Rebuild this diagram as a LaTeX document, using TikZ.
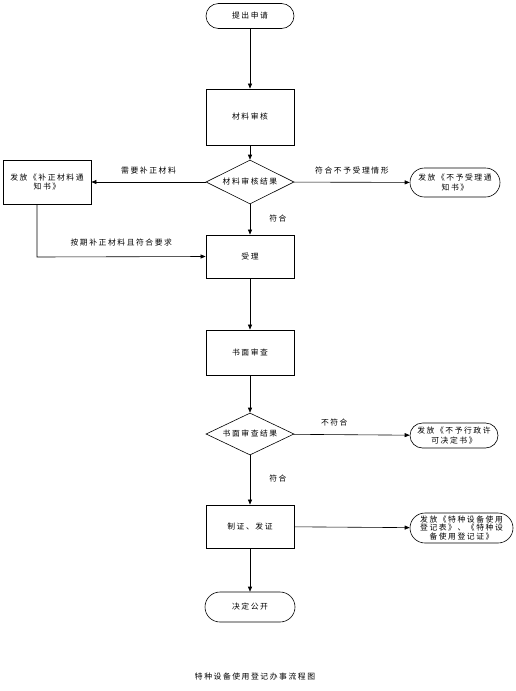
\documentclass[tikz,border=0pt]{standalone}
\usepackage{fontspec}
\setmainfont{Noto Sans CJK SC}[LetterSpace=20]
\usetikzlibrary{shapes.geometric,arrows.meta}
\begin{document}
\begin{tikzpicture}[x=1pt,y=-1pt,
  every node/.style={font=\fontsize{7.8}{9.5}\selectfont, inner sep=1pt},
  box/.style={draw, line width=0.8pt, minimum width=88pt, minimum height=44pt},
  stad/.style={draw, line width=0.6pt, rounded corners=13pt, minimum width=88pt, minimum height=27pt, align=center},
  dia/.style={draw, line width=0.6pt, diamond, aspect=2.05, minimum width=88pt, minimum height=44pt, inner sep=0pt},
  arr/.style={-{Triangle[length=5pt,width=4pt]}, line width=0.6pt},
  lbl/.style={font=\fontsize{7.8}{9}\selectfont}]
\useasboundingbox (0,0) rectangle (516,691);
\node[stad, minimum height=25pt, rounded corners=12.5pt] (start) at (250,16) {提出申请};
\node[box, minimum height=56pt] (review) at (250,117) {材料审核};
\node[dia] (res1) at (250,182) {材料审核结果};
\node[box, minimum height=44pt, align=center] (notice) at (47,182) {发放《补正材料通\\知书》};
\node[stad, minimum height=29pt, rounded corners=14.5pt, minimum width=90pt] (reject1) at (455,182.5) {发放《不予受理通\\知书》};
\node[box, minimum height=43pt] (accept) at (250,256.5) {受理};
\node[box, minimum height=45pt] (paper) at (250,352.5) {书面审查};
\node[dia, minimum height=42pt] (res2) at (250,434) {书面审查结果};
\node[stad, minimum height=25pt, rounded corners=12.5pt] (reject2) at (454,435.5) {发放《不予行政许\\可决定书》};
\node[box, minimum height=43pt] (issue) at (250,526.5) {制证、发证};
\node[stad, minimum height=30pt, rounded corners=15pt, minimum width=103pt, inner sep=0pt, font=\fontsize{7.8}{8.5}\selectfont] (cert) at (461.5,528) {发放《特种设备使用\\登记表》、《特种设\\备使用登记证》};
\node[stad, minimum height=30pt, rounded corners=15pt, minimum width=90pt] (public) at (250,607) {决定公开};
\node[lbl] (title) at (255,677) {特种设备使用登记办事流程图};
\coordinate (corner) at (37,257);
\draw[arr] (start) -- (review);
\draw[arr] (review) -- (res1);
\draw[arr] (res1) -- node[lbl, above=7pt, pos=0.5] (l1) {需要补正材料} (notice);
\draw[arr] (res1) -- node[lbl, above=7pt, pos=0.5] (l2) {符合不予受理情形} (reject1);
\draw[arr] (res1) -- node[lbl, right=18pt, pos=0.48] (l3) {符合} (accept);
\draw[arr] (notice.south -| corner) -- (corner) -- node[lbl, above=9pt, pos=0.5] (l4) {按期补正材料且符合要求} (accept.west);
\draw[arr] (accept) -- (paper);
\draw[arr] (paper) -- (res2);
\draw[arr] (res2) -- node[lbl, above=7pt, pos=0.35] (l5) {不符合} (reject2);
\draw[arr] (res2) -- node[lbl, right=18pt, pos=0.47] (l6) {符合} (issue);
\draw[arr] (issue) -- (cert);
\draw[arr] (issue) -- (public);
\end{tikzpicture}
\end{document}
